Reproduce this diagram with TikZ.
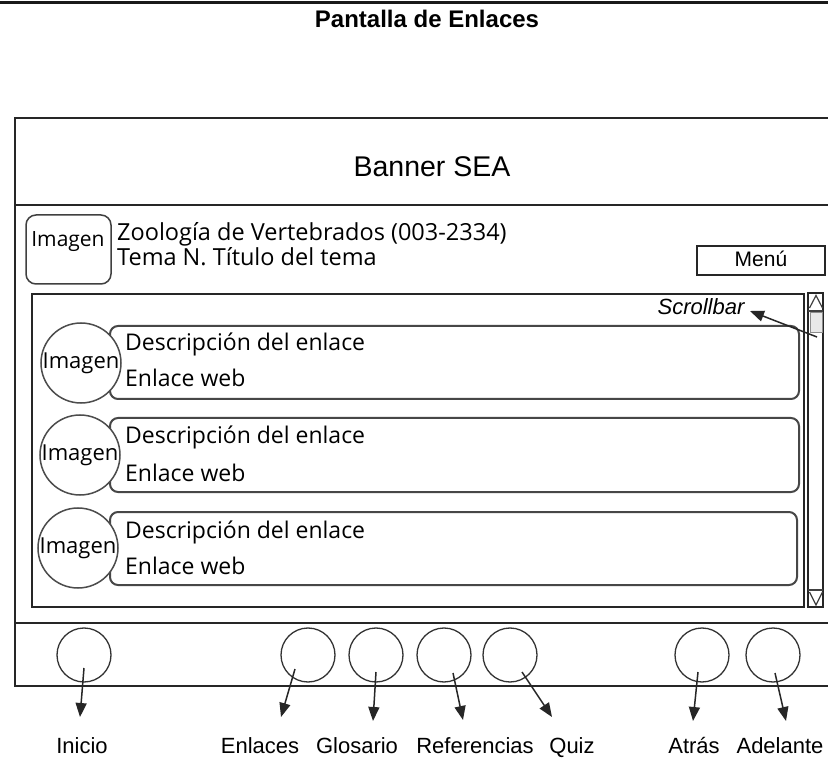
\documentclass[tikz,border=0pt]{standalone}
\usepackage{fontspec}
\setmainfont{Liberation Sans}
\newfontfamily\uifont{Open Sans}
\usetikzlibrary{arrows.meta}
\begin{document}
\begin{tikzpicture}[x=1pt,y=-1pt,
  frame/.style={draw=black!85, line width=2pt},
  itembox/.style={draw=black!72, line width=2pt, rounded corners=8pt},
  imgcircle/.style={circle, draw=black!70, line width=1.5pt, fill=white, minimum size=80pt, inner sep=0pt, font=\uifont\fontsize{22}{26}\selectfont},
  navbtn/.style={circle, draw=black!80, line width=1.3pt, minimum size=54pt, inner sep=0pt},
  ptr/.style={-{Triangle[length=14pt,width=11pt]}, line width=1.5pt, draw=black!85},
  uitext/.style={inner sep=0pt, font=\uifont\fontsize{23}{27}\selectfont},
  uihead/.style={inner sep=0pt, font=\uifont\fontsize{23.5}{27}\selectfont},
  uismall/.style={inner sep=0pt, font=\uifont\fontsize{21}{25}\selectfont},
  navlabel/.style={inner sep=0pt, anchor=base, font=\fontsize{22}{26}\selectfont}
]
\useasboundingbox (0,0) rectangle (828,759);
\fill[white] (0,0) rectangle (828,759);

% top rule and title
\draw[line width=3pt, black!90] (0,2.5) -- (828,2.5);
\node[inner sep=0pt, anchor=base, font=\bfseries\fontsize{24}{28}\selectfont] (title) at (427,28) {Pantalla de Enlaces};

% outer frame
\draw[frame] (840,118) -- (15,118) -- (15,686) -- (840,686);
\draw[frame, line width=2.5pt] (15,205) -- (840,205);
\draw[frame, line width=2.5pt] (15,623) -- (840,623);
\node[inner sep=0pt, anchor=base, font=\fontsize{28.5}{32}\selectfont] (banner) at (432,177) {Banner SEA};

% header
\node[draw=black!75, line width=1.5pt, rounded corners=10pt, minimum width=85pt, minimum height=69pt, inner sep=0pt] (hdrimg) at (68.5,249.5) {};
\node[uismall, anchor=base] (hdrimgtxt) at (68,247) {Imagen};
\node[uihead, anchor=base west] (course) at (117,241) {Zoología de Vertebrados (003-2334)};
\node[uihead, anchor=base west] (topic) at (117,266) {Tema N. Título del tema};
\node[draw=black!85, line width=1.8pt, minimum width=128pt, minimum height=29pt, inner sep=0pt] (menu) at (761,260.5) {};
\node[inner sep=0pt, anchor=base, font=\fontsize{21}{25}\selectfont] (menutxt) at (761,267) {Menú};

% content box
\draw[frame] (32,294) rectangle (804,607);

% items
\draw[itembox] (110,326) rectangle (799,399);
\node[imgcircle] (img1) at (81,363) {Imagen};
\node[uitext, anchor=base west] (d1) at (125,351) {Descripción del enlace};
\node[uitext, anchor=base west] (w1) at (125,387) {Enlace web};

\draw[itembox] (110,418) rectangle (799,492);
\node[imgcircle] (img2) at (80,455) {Imagen};
\node[uitext, anchor=base west] (d2) at (125,444) {Descripción del enlace};
\node[uitext, anchor=base west] (w2) at (125,481) {Enlace web};

\draw[itembox] (110,512) rectangle (797,585);
\node[imgcircle] (img3) at (78,548) {Imagen};
\node[uitext, anchor=base west] (d3) at (125,538) {Descripción del enlace};
\node[uitext, anchor=base west] (w3) at (125,574) {Enlace web};

% scrollbar
\draw[draw=black!85, line width=1.5pt] (808,293) rectangle (823,607);
\draw[draw=black!75, line width=1.2pt] (809.5,308) -- (816,295.5) -- (822.5,308);
\draw[draw=black!75, line width=1.2pt] (808,311) -- (823,311);
\filldraw[fill=black!9, draw=black!45, line width=1pt] (810,313) rectangle (822,333);
\draw[draw=black!75, line width=1.2pt] (808,590) -- (823,590);
\draw[draw=black!75, line width=1.2pt] (809.5,592) -- (816,605) -- (822.5,592);
\node[inner sep=0pt, anchor=base, font=\itshape\fontsize{22}{26}\selectfont] (sblabel) at (701,315) {Scrollbar};
\coordinate (sbtail) at (817,337);
\coordinate (sbtip) at (750,311);
\draw[ptr] (sbtail) -- (sbtip);

% navigation buttons
\node[navbtn] (b1) at (84,655) {};
\node[navbtn] (b2) at (308,655) {};
\node[navbtn] (b3) at (376,655) {};
\node[navbtn] (b4) at (444,655) {};
\node[navbtn] (b5) at (510,655) {};
\node[navbtn] (b6) at (702,655) {};
\node[navbtn] (b7) at (773,655) {};

\node[navlabel] (l1) at (82,753) {Inicio};
\node[navlabel] (l2) at (260,753) {Enlaces};
\node[navlabel] (l3) at (357,753) {Glosario};
\node[navlabel] (l4) at (475,753) {Referencias};
\node[navlabel] (l5) at (572,753) {Quiz};
\node[navlabel] (l6) at (694,753) {Atrás};
\node[navlabel] (l7) at (780,753) {Adelante};

\coordinate (t1) at (84,668);  \coordinate (h1) at (80,717);
\coordinate (t2) at (295,669); \coordinate (h2) at (281,717);
\coordinate (t3) at (376,672); \coordinate (h3) at (373,721);
\coordinate (t4) at (453,673); \coordinate (h4) at (463,720);
\coordinate (t5) at (522,672); \coordinate (h5) at (552,717);
\coordinate (t6) at (698,672); \coordinate (h6) at (693,721);
\coordinate (t7) at (775,673); \coordinate (h7) at (786,721);
\foreach \i in {1,...,7} { \draw[ptr] (t\i) -- (h\i); }
\end{tikzpicture}
\end{document}
